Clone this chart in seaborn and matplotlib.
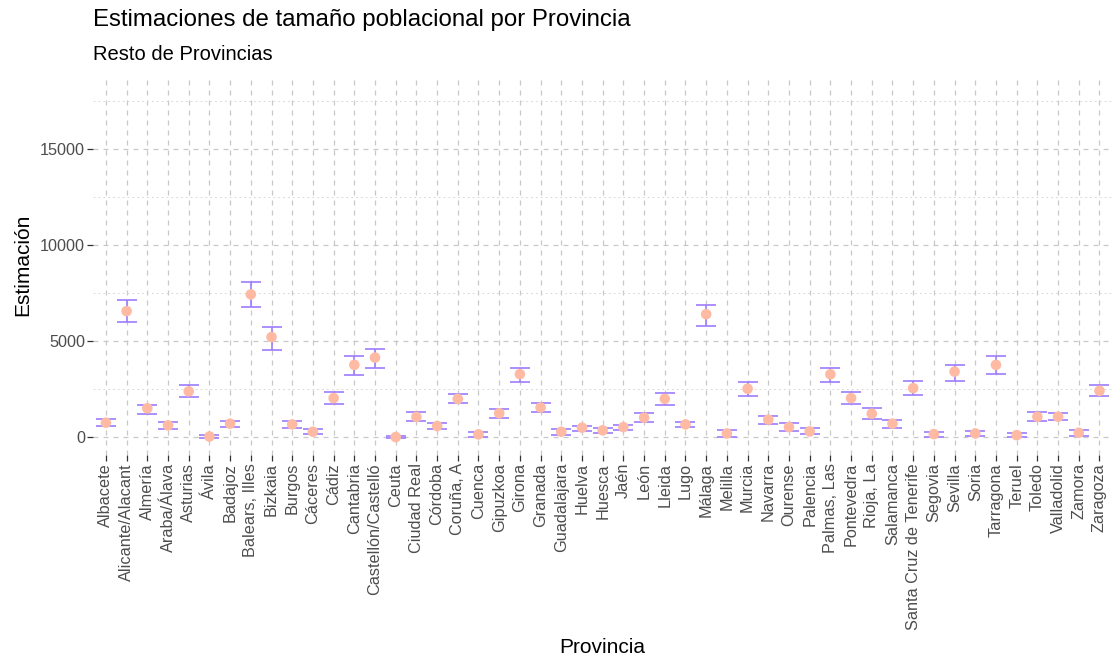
import numpy as np
import pandas as pd
import matplotlib.pyplot as plt
import seaborn as sns
from matplotlib.ticker import MultipleLocator

provincias = ['Albacete', 'Alicante/Alacant', 'Almería', 'Araba/Álava', 'Asturias', 'Ávila',
              'Badajoz', 'Balears, Illes', 'Bizkaia', 'Burgos', 'Cáceres', 'Cádiz', 'Cantabria',
              'Castellón/Castelló', 'Ceuta', 'Ciudad Real', 'Córdoba', 'Coruña, A', 'Cuenca',
              'Gipuzkoa', 'Girona', 'Granada', 'Guadalajara', 'Huelva', 'Huesca', 'Jaén', 'León',
              'Lleida', 'Lugo', 'Málaga', 'Melilla', 'Murcia', 'Navarra', 'Ourense', 'Palencia',
              'Palmas, Las', 'Pontevedra', 'Rioja, La', 'Salamanca', 'Santa Cruz de Tenerife',
              'Segovia', 'Sevilla', 'Soria', 'Tarragona', 'Teruel', 'Toledo', 'Valladolid',
              'Zamora', 'Zaragoza']

estimacion = [770, 6580, 1520, 630, 2400, 50, 720, 7450, 5230, 680, 300, 2050, 3780,
              4160, 20, 1070, 595, 2010, 160, 1260, 3300, 1560, 300, 510, 370, 540, 1030,
              2010, 680, 6420, 210, 2540, 930, 540, 315, 3290, 2050, 1240, 720, 2570,
              175, 3430, 210, 3780, 120, 1080, 1080, 245, 2430]

lim_inf = [600, 6020, 1240, 440, 2100, -20, 560, 6790, 4550, 490, 175, 1750, 3250,
           3640, -50, 840, 450, 1790, 50, 1030, 2900, 1330, 120, 330, 230, 370, 800,
           1710, 525, 5790, 20, 2170, 720, 315, 175, 2870, 1750, 980, 490, 2190,
           35, 2960, 70, 3330, 20, 860, 890, 90, 2170]

lim_sup = [950, 7175, 1715, 790, 2710, 120, 860, 8080, 5770, 860, 420, 2380, 4250,
           4600, 100, 1310, 750, 2260, 280, 1470, 3640, 1800, 420, 610, 490, 660, 1260,
           2310, 820, 6910, 400, 2870, 1120, 750, 470, 3640, 2360, 1540, 930, 2920,
           300, 3800, 330, 4250, 245, 1330, 1260, 370, 2730]

df = pd.DataFrame({'Provincia': provincias, 'Estimacion': estimacion,
                   'inf': lim_inf, 'sup': lim_sup})

sns.set_theme(style="white")
plt.rcParams['font.family'] = ['Liberation Sans', 'DejaVu Sans']

fig = plt.figure(figsize=(11.13, 6.6), dpi=100)
ax = fig.add_axes([0.084, 0.311, 0.915, 0.576])

# barras de error (intervalos)
err = np.array([df['Estimacion'] - df['inf'], df['sup'] - df['Estimacion']])
ax.errorbar(df['Provincia'], df['Estimacion'], yerr=err, fmt='none',
            ecolor='#9D7DFF', elinewidth=1.2, capsize=7, capthick=1.2, zorder=2)

sns.scatterplot(data=df, x='Provincia', y='Estimacion', color='#FFBAA4',
                s=58, edgecolor='none', ax=ax, zorder=3)

ax.set_xlim(-0.6, len(provincias) - 0.4)
ax.set_ylim(-900, 18900)
ax.yaxis.set_major_locator(MultipleLocator(5000))
ax.yaxis.set_minor_locator(MultipleLocator(2500))

ax.grid(True, axis='x', which='major', color='#C8C8C8', linestyle=(0, (4, 4)), linewidth=0.9)
ax.grid(True, axis='y', which='major', color='#C8C8C8', linestyle=(0, (4, 4)), linewidth=0.9)
ax.grid(True, axis='y', which='minor', color='#DADADA', linestyle=(0, (2, 3)), linewidth=0.7)
ax.set_axisbelow(True)
for s in ax.spines.values():
    s.set_visible(False)

ax.tick_params(axis='both', which='major', length=4, width=0.9, color='#333333',
               labelsize=11.7, labelcolor='#4D4D4D', pad=2, left=True, bottom=True)
ax.tick_params(axis='y', which='minor', length=0)
plt.setp(ax.get_xticklabels(), rotation=90, ha='center', va='top')

ax.set_xlabel('Provincia', fontsize=15, color='black', labelpad=6)
ax.set_ylabel('Estimación', fontsize=15, color='black', labelpad=6)

fig.text(0.084, 0.96, 'Estimaciones de tamaño poblacional por Provincia', fontsize=17.3,
         color='black', ha='left', va='baseline')
fig.text(0.084, 0.909, 'Resto de Provincias', fontsize=14.5, color='black',
         ha='left', va='baseline')

plt.savefig('out.png', dpi=100)
